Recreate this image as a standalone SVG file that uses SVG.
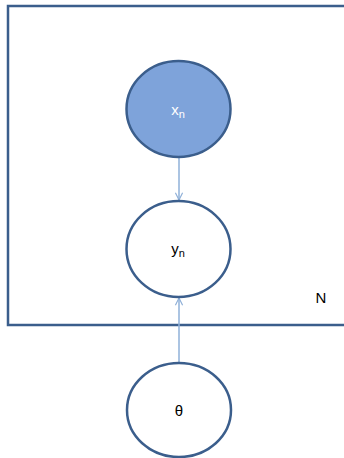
<svg xmlns="http://www.w3.org/2000/svg" width="344" height="458" viewBox="0 0 344 458">
<style>
.node{stroke:#3B5E8C;stroke-width:2.5}
.lbl{font-family:"Liberation Sans",Arial,sans-serif;font-size:15px;text-anchor:middle}
.sub{font-size:11px}
.edge{stroke:#8FB0D8;stroke-width:1.5;fill:none}
</style>
<defs>
<marker id="arr" viewBox="0 0 10 10" refX="9" refY="5" markerWidth="9" markerHeight="9" markerUnits="userSpaceOnUse" orient="auto">
<path d="M1,1 L9,5 L1,9" fill="none" stroke="#8FB0D8" stroke-width="1.3"/>
</marker>
</defs>
<rect width="344" height="458" fill="#ffffff"/>
<g id="plate">
<rect x="8" y="6" width="345" height="319" fill="none" stroke="#3B5E8C" stroke-width="2.5"/>
<text class="lbl" x="321" y="303" fill="#000">N</text>
</g>
<g id="connectors">
<line class="edge" x1="179" y1="157" x2="179" y2="200" marker-end="url(#arr)"/>
<line class="edge" x1="179" y1="363" x2="179" y2="298" marker-end="url(#arr)"/>
</g>
<g id="xn">
<ellipse class="node" cx="178.5" cy="109" rx="52" ry="48" fill="#7EA3DA"/>
<text class="lbl" x="178" y="115" fill="#ffffff">x<tspan class="sub" dy="3">n</tspan></text>
</g>
<g id="yn">
<ellipse class="node" cx="178.5" cy="249" rx="52" ry="48" fill="#ffffff"/>
<text class="lbl" x="178" y="254" fill="#000">y<tspan class="sub" dy="3">n</tspan></text>
</g>
<g id="theta">
<ellipse class="node" cx="179" cy="410" rx="52" ry="47" fill="#ffffff"/>
<text class="lbl" x="179" y="416" fill="#000">θ</text>
</g>
</svg>
